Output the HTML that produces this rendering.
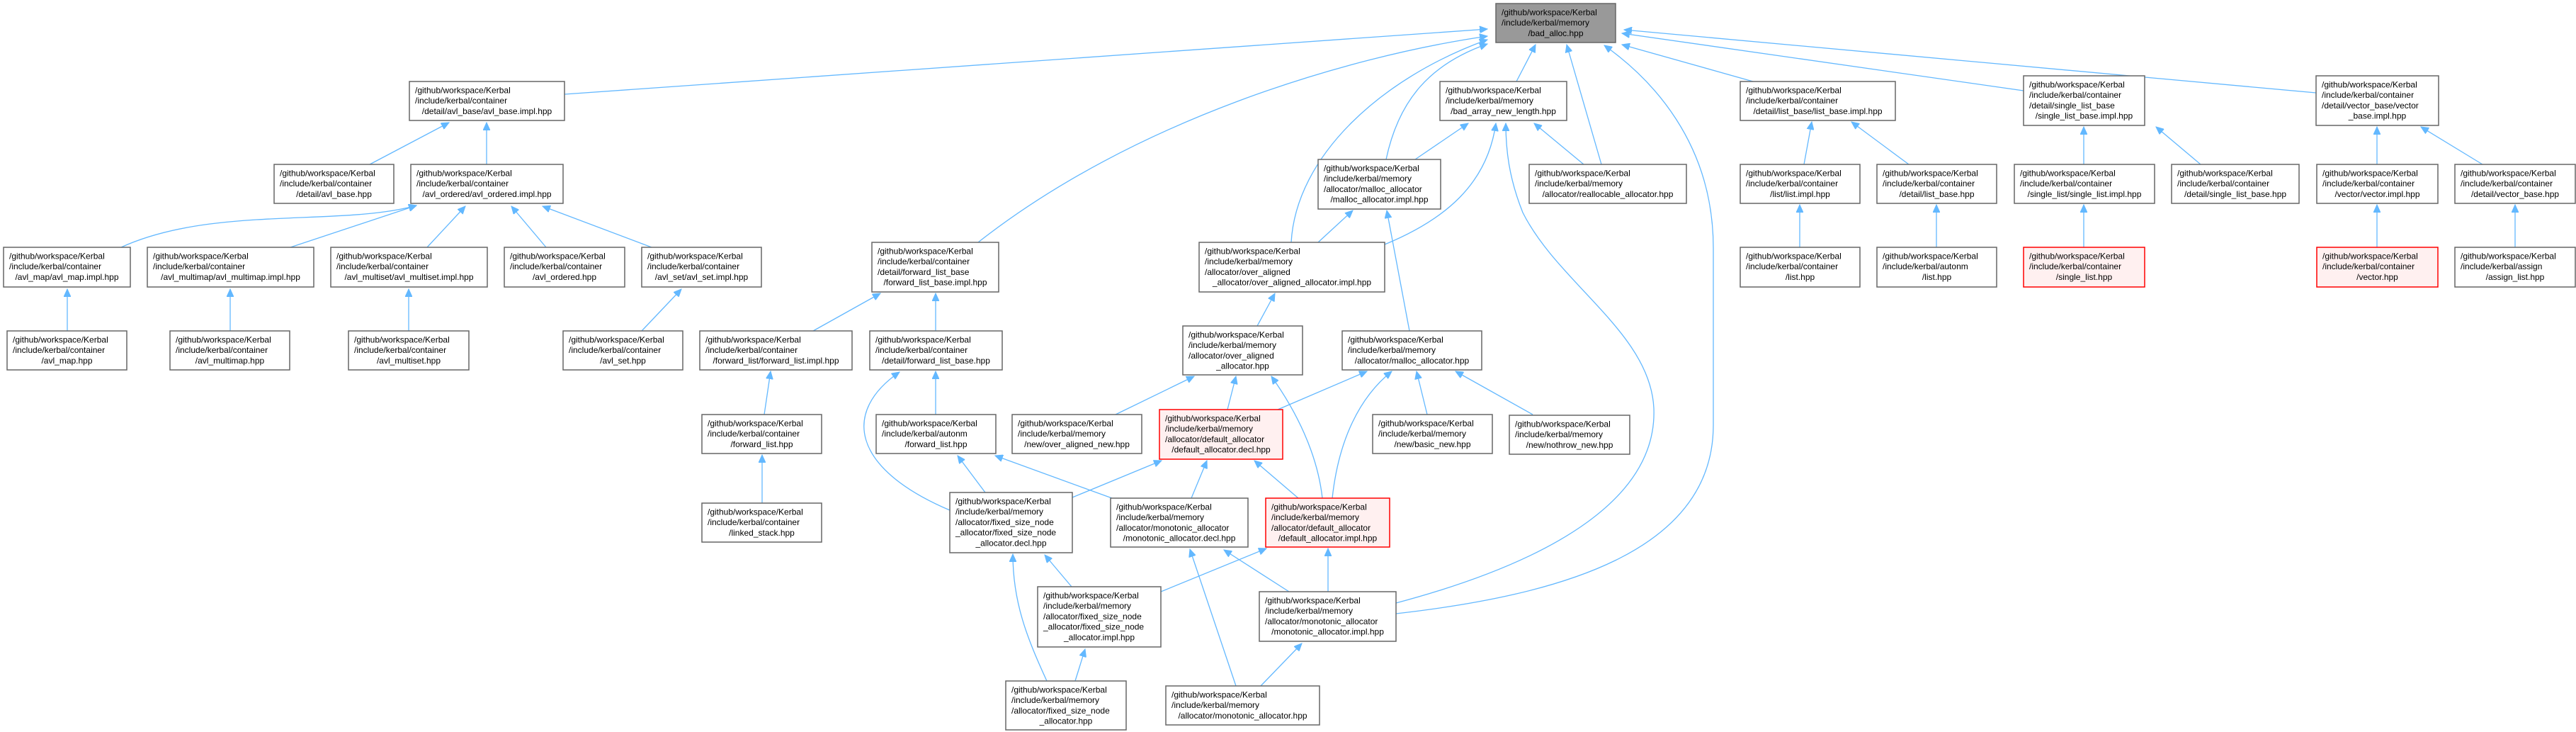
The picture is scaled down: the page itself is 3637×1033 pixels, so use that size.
<!DOCTYPE html>
<html><head><meta charset="utf-8">
<style>
html,body{margin:0;padding:0;background:#fff;}
svg{display:block;}
text{font-family:"Liberation Sans",Arial,sans-serif;font-size:12px;fill:#000;}
.n{fill:#fff;stroke:#666;stroke-width:1.5;}
.r{fill:#fff0f0;stroke:#ff0000;stroke-width:1.5;}
.g{fill:#999;stroke:#666;stroke-width:1.5;}
.e{fill:none;stroke:#63b8ff;stroke-width:1.3;marker-end:url(#a);}
.m{text-anchor:middle;}
</style></head><body>
<svg width="3637" height="1033" viewBox="0 0 3637 1033" xmlns="http://www.w3.org/2000/svg">
<defs><marker id="a" markerUnits="userSpaceOnUse" markerWidth="12" markerHeight="10" refX="11" refY="5" orient="auto"><path d="M0,0 L11,5 L0,10 z" fill="#63b8ff" stroke="#63b8ff"/></marker></defs>

<!-- edges -->
<path class="e" d="M797,133 L2100,41"/>
<path class="e" d="M1381,342 C1600,170 1900,80 2100,51"/>
<path class="e" d="M1823,342 C1830,220 1950,110 2100,56"/>
<path class="e" d="M1957,225 C1975,140 2020,90 2100,62"/>
<path class="e" d="M2141,115 L2168,63"/>
<path class="e" d="M2261,232 L2212,63"/>
<path class="e" d="M1971,866 C2200,840 2419,780 2419,600 L2419,350 C2419,200 2330,110 2265,64"/>
<path class="e" d="M2475,115 L2290,63"/>
<path class="e" d="M2857,128 L2290,47"/>
<path class="e" d="M3270,131 L2293,42"/>
<path class="e" d="M522,232 L634,173"/>
<path class="e" d="M687,232 L687,173"/>
<path class="e" d="M171,349 C300,290 480,320 588,290"/>
<path class="e" d="M410,349 L588,290"/>
<path class="e" d="M603,349 L657,291"/>
<path class="e" d="M771,349 L722,291"/>
<path class="e" d="M920,349 L766,291"/>
<path class="e" d="M95,467 L95,408"/>
<path class="e" d="M325,467 L325,408"/>
<path class="e" d="M577,467 L577,408"/>
<path class="e" d="M906,467 L962,408"/>
<path class="e" d="M1148,467 L1243,414"/>
<path class="e" d="M1321,467 L1321,414"/>
<path class="e" d="M1079,585 L1088,524"/>
<path class="e" d="M1076,710 L1076,642"/>
<path class="e" d="M1321,585 L1321,524"/>
<path class="e" d="M1341,720 C1200,660 1190,580 1270,525"/>
<path class="e" d="M1391,695 L1352,643"/>
<path class="e" d="M1570,703 L1405,643"/>
<path class="e" d="M1775,460 L1800,414"/>
<path class="e" d="M1861,342 L1910,297"/>
<path class="e" d="M1990,467 L1958,297"/>
<path class="e" d="M1955,345 C2040,310 2100,260 2112,174"/>
<path class="e" d="M1998,225 L2073,174"/>
<path class="e" d="M1971,851 C2200,790 2340,700 2335,576 C2330,470 2200,400 2150,300 C2130,250 2126,210 2126,174"/>
<path class="e" d="M2236,232 L2166,174"/>
<path class="e" d="M1575,585 L1686,531"/>
<path class="e" d="M1733,578 L1745,531"/>
<path class="e" d="M1867,703 C1860,640 1830,580 1795,531"/>
<path class="e" d="M1804,578 L1930,524"/>
<path class="e" d="M1881,703 C1890,620 1920,560 1965,524"/>
<path class="e" d="M2015,585 L2000,524"/>
<path class="e" d="M2164,585 L2055,524"/>
<path class="e" d="M1514,702 L1640,650"/>
<path class="e" d="M1682,703 L1704,650"/>
<path class="e" d="M1833,703 L1771,650"/>
<path class="e" d="M1513,828 L1475,783"/>
<path class="e" d="M1478,961 C1450,900 1430,850 1430,782"/>
<path class="e" d="M1820,835 L1728,776"/>
<path class="e" d="M1745,968 L1680,775"/>
<path class="e" d="M1639,835 L1788,774"/>
<path class="e" d="M1875,835 L1875,774"/>
<path class="e" d="M1518,961 L1532,916"/>
<path class="e" d="M1780,968 L1838,908"/>
<path class="e" d="M2547,232 L2558,172"/>
<path class="e" d="M2695,232 L2614,172"/>
<path class="e" d="M2541,349 L2541,289"/>
<path class="e" d="M2734,349 L2734,289"/>
<path class="e" d="M2942,232 L2942,179"/>
<path class="e" d="M3107,232 L3044,179"/>
<path class="e" d="M2942,349 L2942,289"/>
<path class="e" d="M3356,232 L3356,179"/>
<path class="e" d="M3505,232 L3418,179"/>
<path class="e" d="M3356,349 L3356,289"/>
<path class="e" d="M3551,349 L3551,289"/>

<!-- nodes -->
<rect class="g" x="2112" y="5" width="169" height="55"/>
<text x="2120" y="21.5">/github/workspace/Kerbal</text><text x="2120" y="36.2">/include/kerbal/memory</text><text class="m" x="2196.5" y="50.9">/bad_alloc.hpp</text>

<rect class="n" x="578" y="115" width="219" height="55"/>
<text x="586" y="131.5">/github/workspace/Kerbal</text><text x="586" y="146.2">/include/kerbal/container</text><text class="m" x="687.5" y="160.9">/detail/avl_base/avl_base.impl.hpp</text>

<rect class="n" x="387" y="232" width="169" height="55"/>
<text x="395" y="248.5">/github/workspace/Kerbal</text><text x="395" y="263.2">/include/kerbal/container</text><text class="m" x="471.5" y="277.9">/detail/avl_base.hpp</text>

<rect class="n" x="580" y="232" width="215" height="55"/>
<text x="588" y="248.5">/github/workspace/Kerbal</text><text x="588" y="263.2">/include/kerbal/container</text><text class="m" x="687.5" y="277.9">/avl_ordered/avl_ordered.impl.hpp</text>

<rect class="n" x="5" y="349" width="179" height="56"/>
<text x="13" y="365.5">/github/workspace/Kerbal</text><text x="13" y="380.2">/include/kerbal/container</text><text class="m" x="94.5" y="394.9">/avl_map/avl_map.impl.hpp</text>

<rect class="n" x="208" y="349" width="235" height="56"/>
<text x="216" y="365.5">/github/workspace/Kerbal</text><text x="216" y="380.2">/include/kerbal/container</text><text class="m" x="325.5" y="394.9">/avl_multimap/avl_multimap.impl.hpp</text>

<rect class="n" x="467" y="349" width="221" height="56"/>
<text x="475" y="365.5">/github/workspace/Kerbal</text><text x="475" y="380.2">/include/kerbal/container</text><text class="m" x="577.5" y="394.9">/avl_multiset/avl_multiset.impl.hpp</text>

<rect class="n" x="712" y="349" width="170" height="56"/>
<text x="720" y="365.5">/github/workspace/Kerbal</text><text x="720" y="380.2">/include/kerbal/container</text><text class="m" x="797" y="394.9">/avl_ordered.hpp</text>

<rect class="n" x="906" y="349" width="169" height="56"/>
<text x="914" y="365.5">/github/workspace/Kerbal</text><text x="914" y="380.2">/include/kerbal/container</text><text class="m" x="990.5" y="394.9">/avl_set/avl_set.impl.hpp</text>

<rect class="n" x="10" y="467" width="169" height="55"/>
<text x="18" y="483.5">/github/workspace/Kerbal</text><text x="18" y="498.2">/include/kerbal/container</text><text class="m" x="94.5" y="512.9">/avl_map.hpp</text>

<rect class="n" x="240" y="467" width="169" height="55"/>
<text x="248" y="483.5">/github/workspace/Kerbal</text><text x="248" y="498.2">/include/kerbal/container</text><text class="m" x="324.5" y="512.9">/avl_multimap.hpp</text>

<rect class="n" x="492" y="467" width="170" height="55"/>
<text x="500" y="483.5">/github/workspace/Kerbal</text><text x="500" y="498.2">/include/kerbal/container</text><text class="m" x="577" y="512.9">/avl_multiset.hpp</text>

<rect class="n" x="795" y="467" width="169" height="55"/>
<text x="803" y="483.5">/github/workspace/Kerbal</text><text x="803" y="498.2">/include/kerbal/container</text><text class="m" x="879.5" y="512.9">/avl_set.hpp</text>

<rect class="n" x="988" y="467" width="215" height="55"/>
<text x="996" y="483.5">/github/workspace/Kerbal</text><text x="996" y="498.2">/include/kerbal/container</text><text class="m" x="1095.5" y="512.9">/forward_list/forward_list.impl.hpp</text>

<rect class="n" x="991" y="585" width="169" height="55"/>
<text x="999" y="601.5">/github/workspace/Kerbal</text><text x="999" y="616.2">/include/kerbal/container</text><text class="m" x="1075.5" y="630.9">/forward_list.hpp</text>

<rect class="n" x="991" y="710" width="169" height="55"/>
<text x="999" y="726.5">/github/workspace/Kerbal</text><text x="999" y="741.2">/include/kerbal/container</text><text class="m" x="1075.5" y="755.9">/linked_stack.hpp</text>

<rect class="n" x="1231" y="342" width="179" height="70"/>
<text x="1239" y="358.5">/github/workspace/Kerbal</text><text x="1239" y="373.2">/include/kerbal/container</text><text x="1239" y="387.9">/detail/forward_list_base</text><text class="m" x="1320.5" y="402.6">/forward_list_base.impl.hpp</text>

<rect class="n" x="1228" y="467" width="187" height="55"/>
<text x="1236" y="483.5">/github/workspace/Kerbal</text><text x="1236" y="498.2">/include/kerbal/container</text><text class="m" x="1321.5" y="512.9">/detail/forward_list_base.hpp</text>

<rect class="n" x="1237" y="585" width="169" height="55"/>
<text x="1245" y="601.5">/github/workspace/Kerbal</text><text x="1245" y="616.2">/include/kerbal/autonm</text><text class="m" x="1321.5" y="630.9">/forward_list.hpp</text>

<rect class="n" x="1693" y="342" width="262" height="70"/>
<text x="1701" y="358.5">/github/workspace/Kerbal</text><text x="1701" y="373.2">/include/kerbal/memory</text><text x="1701" y="387.9">/allocator/over_aligned</text><text class="m" x="1824" y="402.6">_allocator/over_aligned_allocator.impl.hpp</text>

<rect class="n" x="1861" y="225" width="173" height="70"/>
<text x="1869" y="241.5">/github/workspace/Kerbal</text><text x="1869" y="256.2">/include/kerbal/memory</text><text x="1869" y="270.9">/allocator/malloc_allocator</text><text class="m" x="1947.5" y="285.6">/malloc_allocator.impl.hpp</text>

<rect class="n" x="1670" y="460" width="169" height="69"/>
<text x="1678" y="476.5">/github/workspace/Kerbal</text><text x="1678" y="491.2">/include/kerbal/memory</text><text x="1678" y="505.9">/allocator/over_aligned</text><text class="m" x="1754.5" y="520.6">_allocator.hpp</text>

<rect class="n" x="1895" y="467" width="197" height="55"/>
<text x="1903" y="483.5">/github/workspace/Kerbal</text><text x="1903" y="498.2">/include/kerbal/memory</text><text class="m" x="1993.5" y="512.9">/allocator/malloc_allocator.hpp</text>

<rect class="n" x="1429" y="585" width="183" height="55"/>
<text x="1437" y="601.5">/github/workspace/Kerbal</text><text x="1437" y="616.2">/include/kerbal/memory</text><text class="m" x="1520.5" y="630.9">/new/over_aligned_new.hpp</text>

<rect class="r" x="1637" y="578" width="174" height="70"/>
<text x="1645" y="594.5">/github/workspace/Kerbal</text><text x="1645" y="609.2">/include/kerbal/memory</text><text x="1645" y="623.9">/allocator/default_allocator</text><text class="m" x="1724" y="638.6">/default_allocator.decl.hpp</text>

<rect class="n" x="1938" y="585" width="169" height="55"/>
<text x="1946" y="601.5">/github/workspace/Kerbal</text><text x="1946" y="616.2">/include/kerbal/memory</text><text class="m" x="2022.5" y="630.9">/new/basic_new.hpp</text>

<rect class="n" x="2131" y="586" width="170" height="55"/>
<text x="2139" y="602.5">/github/workspace/Kerbal</text><text x="2139" y="617.2">/include/kerbal/memory</text><text class="m" x="2216" y="631.9">/new/nothrow_new.hpp</text>

<rect class="n" x="1341" y="695" width="173" height="85"/>
<text x="1349" y="711.5">/github/workspace/Kerbal</text><text x="1349" y="726.2">/include/kerbal/memory</text><text x="1349" y="740.9">/allocator/fixed_size_node</text><text x="1349" y="755.6">_allocator/fixed_size_node</text><text class="m" x="1427.5" y="770.3">_allocator.decl.hpp</text>

<rect class="n" x="1568" y="703" width="194" height="69"/>
<text x="1576" y="719.5">/github/workspace/Kerbal</text><text x="1576" y="734.2">/include/kerbal/memory</text><text x="1576" y="748.9">/allocator/monotonic_allocator</text><text class="m" x="1665" y="763.6">/monotonic_allocator.decl.hpp</text>

<rect class="r" x="1787" y="703" width="175" height="69"/>
<text x="1795" y="719.5">/github/workspace/Kerbal</text><text x="1795" y="734.2">/include/kerbal/memory</text><text x="1795" y="748.9">/allocator/default_allocator</text><text class="m" x="1874.5" y="763.6">/default_allocator.impl.hpp</text>

<rect class="n" x="1465" y="828" width="174" height="85"/>
<text x="1473" y="844.5">/github/workspace/Kerbal</text><text x="1473" y="859.2">/include/kerbal/memory</text><text x="1473" y="873.9">/allocator/fixed_size_node</text><text x="1473" y="888.6">_allocator/fixed_size_node</text><text class="m" x="1552" y="903.3">_allocator.impl.hpp</text>

<rect class="n" x="1778" y="835" width="193" height="70"/>
<text x="1786" y="851.5">/github/workspace/Kerbal</text><text x="1786" y="866.2">/include/kerbal/memory</text><text x="1786" y="880.9">/allocator/monotonic_allocator</text><text class="m" x="1874.5" y="895.6">/monotonic_allocator.impl.hpp</text>

<rect class="n" x="1420" y="961" width="170" height="69"/>
<text x="1428" y="977.5">/github/workspace/Kerbal</text><text x="1428" y="992.2">/include/kerbal/memory</text><text x="1428" y="1006.9">/allocator/fixed_size_node</text><text class="m" x="1505" y="1021.6">_allocator.hpp</text>

<rect class="n" x="1646" y="968" width="217" height="55"/>
<text x="1654" y="984.5">/github/workspace/Kerbal</text><text x="1654" y="999.2">/include/kerbal/memory</text><text class="m" x="1754.5" y="1013.9">/allocator/monotonic_allocator.hpp</text>

<rect class="n" x="2033" y="115" width="179" height="55"/>
<text x="2041" y="131.5">/github/workspace/Kerbal</text><text x="2041" y="146.2">/include/kerbal/memory</text><text class="m" x="2122.5" y="160.9">/bad_array_new_length.hpp</text>

<rect class="n" x="2159" y="232" width="222" height="55"/>
<text x="2167" y="248.5">/github/workspace/Kerbal</text><text x="2167" y="263.2">/include/kerbal/memory</text><text class="m" x="2270" y="277.9">/allocator/reallocable_allocator.hpp</text>

<rect class="n" x="2457" y="115" width="219" height="55"/>
<text x="2465" y="131.5">/github/workspace/Kerbal</text><text x="2465" y="146.2">/include/kerbal/container</text><text class="m" x="2566.5" y="160.9">/detail/list_base/list_base.impl.hpp</text>

<rect class="n" x="2457" y="232" width="169" height="55"/>
<text x="2465" y="248.5">/github/workspace/Kerbal</text><text x="2465" y="263.2">/include/kerbal/container</text><text class="m" x="2541.5" y="277.9">/list/list.impl.hpp</text>

<rect class="n" x="2650" y="232" width="169" height="55"/>
<text x="2658" y="248.5">/github/workspace/Kerbal</text><text x="2658" y="263.2">/include/kerbal/container</text><text class="m" x="2734.5" y="277.9">/detail/list_base.hpp</text>

<rect class="n" x="2457" y="349" width="169" height="56"/>
<text x="2465" y="365.5">/github/workspace/Kerbal</text><text x="2465" y="380.2">/include/kerbal/container</text><text class="m" x="2541.5" y="394.9">/list.hpp</text>

<rect class="n" x="2650" y="349" width="169" height="56"/>
<text x="2658" y="365.5">/github/workspace/Kerbal</text><text x="2658" y="380.2">/include/kerbal/autonm</text><text class="m" x="2734.5" y="394.9">/list.hpp</text>

<rect class="n" x="2857" y="107" width="171" height="70"/>
<text x="2865" y="123.5">/github/workspace/Kerbal</text><text x="2865" y="138.2">/include/kerbal/container</text><text x="2865" y="152.9">/detail/single_list_base</text><text class="m" x="2942.5" y="167.6">/single_list_base.impl.hpp</text>

<rect class="n" x="2844" y="232" width="198" height="55"/>
<text x="2852" y="248.5">/github/workspace/Kerbal</text><text x="2852" y="263.2">/include/kerbal/container</text><text class="m" x="2943" y="277.9">/single_list/single_list.impl.hpp</text>

<rect class="r" x="2857" y="349" width="171" height="56"/>
<text x="2865" y="365.5">/github/workspace/Kerbal</text><text x="2865" y="380.2">/include/kerbal/container</text><text class="m" x="2942.5" y="394.9">/single_list.hpp</text>

<rect class="n" x="3066" y="232" width="180" height="55"/>
<text x="3074" y="248.5">/github/workspace/Kerbal</text><text x="3074" y="263.2">/include/kerbal/container</text><text class="m" x="3156" y="277.9">/detail/single_list_base.hpp</text>

<rect class="n" x="3270" y="107" width="173" height="70"/>
<text x="3278" y="123.5">/github/workspace/Kerbal</text><text x="3278" y="138.2">/include/kerbal/container</text><text x="3278" y="152.9">/detail/vector_base/vector</text><text class="m" x="3356.5" y="167.6">_base.impl.hpp</text>

<rect class="n" x="3271" y="232" width="171" height="55"/>
<text x="3279" y="248.5">/github/workspace/Kerbal</text><text x="3279" y="263.2">/include/kerbal/container</text><text class="m" x="3356.5" y="277.9">/vector/vector.impl.hpp</text>

<rect class="n" x="3466" y="232" width="170" height="55"/>
<text x="3474" y="248.5">/github/workspace/Kerbal</text><text x="3474" y="263.2">/include/kerbal/container</text><text class="m" x="3551" y="277.9">/detail/vector_base.hpp</text>

<rect class="r" x="3271" y="349" width="171" height="56"/>
<text x="3279" y="365.5">/github/workspace/Kerbal</text><text x="3279" y="380.2">/include/kerbal/container</text><text class="m" x="3356.5" y="394.9">/vector.hpp</text>

<rect class="n" x="3466" y="349" width="170" height="56"/>
<text x="3474" y="365.5">/github/workspace/Kerbal</text><text x="3474" y="380.2">/include/kerbal/assign</text><text class="m" x="3551" y="394.9">/assign_list.hpp</text>
</svg>
</body></html>
